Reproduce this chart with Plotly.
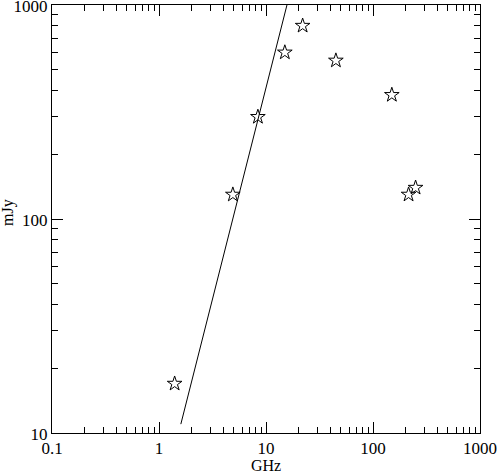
import plotly.graph_objects as go

freq_ghz = [1.4, 4.9, 8.4, 15.0, 22.0, 45.0, 150.0, 215.0, 250.0]
flux_mjy = [17, 130, 300, 600, 800, 550, 380, 130, 140]

fit_freq = [1.6, 15.7]
fit_flux = [11, 1000]

x_major = [0.1, 1, 10, 100, 1000]
x_major_text = ["0.1", "1", "10", "100", "1000"]
y_major = [10, 100, 1000]
y_major_text = ["10", "100", "1000"]

def minors(lo_dec, hi_dec):
    out = []
    for d in range(lo_dec, hi_dec):
        for m in range(2, 10):
            out.append(m * 10.0 ** d)
    return out

x_minor = minors(-1, 3)
y_minor = minors(1, 3)

font = dict(family="Liberation Serif, DejaVu Serif, serif", size=17, color="black")
title_font = dict(family="Liberation Serif, DejaVu Serif, serif", size=16, color="black")

fig = go.Figure()
fig.add_trace(go.Scatter(x=fit_freq, y=fit_flux, mode="lines",
                         line=dict(color="black", width=1), showlegend=False))
fig.add_trace(go.Scatter(x=freq_ghz, y=flux_mjy, mode="markers",
                         marker=dict(symbol="star-open", size=11, color="black",
                                     line=dict(width=1, color="black")),
                         showlegend=False))

axis_common = dict(
    showgrid=False, zeroline=False, showline=True, linecolor="black", linewidth=1,
    mirror="allticks", ticks="inside", ticklen=11, tickwidth=1, tickcolor="black",
    tickfont=font, automargin=False, ticklabeloverflow="allow",
)
fig.update_xaxes(type="log", range=[-1, 3], tickmode="array", tickvals=x_major,
                 ticktext=x_major_text,
                 minor=dict(ticks="inside", ticklen=6, tickwidth=1, tickcolor="black",
                            tickmode="array", tickvals=x_minor, showgrid=False),
                 **axis_common)
fig.update_yaxes(type="log", range=[1, 3], tickmode="array", tickvals=y_major,
                 ticktext=y_major_text, ticklabelshift=1,
                 minor=dict(ticks="inside", ticklen=6, tickwidth=1, tickcolor="black",
                            tickmode="array", tickvals=y_minor, showgrid=False),
                 **axis_common)

fig.add_annotation(text="GHz", xref="paper", yref="paper", x=0.5, y=0,
                   xanchor="center", yanchor="middle", yshift=-32,
                   showarrow=False, font=title_font)
fig.add_annotation(text="mJy", xref="paper", yref="paper", x=0, y=0.5,
                   xanchor="center", yanchor="middle", xshift=-44, yshift=6,
                   textangle=-90, showarrow=False, font=title_font)

fig.update_layout(width=500, height=474, margin=dict(l=52, r=20, t=5, b=41),
                  paper_bgcolor="white", plot_bgcolor="white", font=font)
fig.write_html("out.html", config={"displayModeBar": False},
               post_script="document.body.style.margin='0';document.body.style.padding='0';")
